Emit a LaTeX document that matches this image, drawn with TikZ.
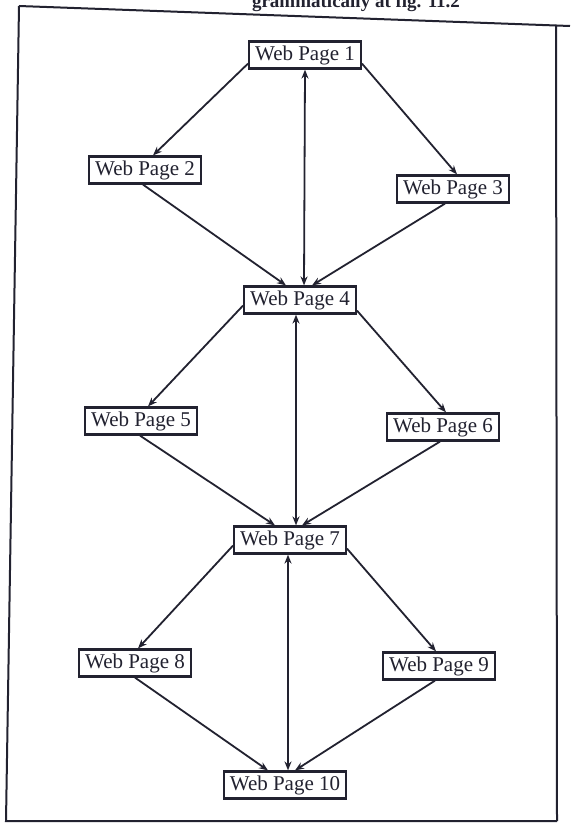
\documentclass[tikz,border=0pt]{standalone}
\usepackage{fontspec}
\setmainfont{Liberation Serif}
\usetikzlibrary{arrows.meta}
\definecolor{ink}{RGB}{34,34,48}
\begin{document}
\begin{tikzpicture}[x=1pt,y=-1pt,
  page/.style={draw=ink,line width=2.2pt,fill=white,inner xsep=6pt,inner ysep=0pt,
    minimum height=27pt,font=\fontsize{21}{22}\selectfont,text=ink},
  link/.style={draw=ink,line width=1.8pt,-{Stealth[length=9pt,width=7pt]}},
  both/.style={draw=ink,line width=1.8pt,{Stealth[length=9pt,width=7pt]}-{Stealth[length=9pt,width=7pt]}}]
\useasboundingbox (0,0) rectangle (570,824);
\fill[white] (0,0) rectangle (570,824);
% caption line, cut by the page edge
\node[anchor=base,text=ink,font=\bfseries\fontsize{19}{20}\selectfont] (cap) at (356,8) {grammatically at fig. 11.2};
% frame
\draw[ink,line width=2pt] (19,6) -- (570,26);
\draw[ink,line width=2pt] (19,6) -- (6,821) -- (557,821);
\draw[ink,line width=2pt] (556,25) -- (557,821);
% pages
\node[page] (p1) at (305,55) {Web Page 1};
\node[page] (p2) at (145,170) {Web Page 2};
\node[page] (p3) at (453,189) {Web Page 3};
\node[page] (p4) at (300,300) {Web Page 4};
\node[page] (p5) at (141,421) {Web Page 5};
\node[page] (p6) at (443,427) {Web Page 6};
\node[page] (p7) at (290,540) {Web Page 7};
\node[page] (p8) at (135,663) {Web Page 8};
\node[page] (p9) at (439,666) {Web Page 9};
\node[page] (p10) at (285,785) {Web Page 10};
% links
\draw[link] ([yshift=6pt]p1.south west) -- ([xshift=8pt]p2.north);
\draw[link] ([yshift=6pt]p1.south east) -- ([xshift=4pt]p3.north);
\draw[both] (p1.south) -- ([xshift=4pt]p4.north);
\draw[link] ([xshift=-2pt]p2.south) -- ([xshift=-14pt]p4.north);
\draw[link] ([xshift=-8pt]p3.south) -- ([xshift=12pt]p4.north);
\draw[link] ([yshift=9pt]p4.south west) -- ([xshift=7pt]p5.north);
\draw[link] ([yshift=4pt]p4.south east) -- ([xshift=3pt]p6.north);
\draw[both] ([xshift=-4pt]p4.south) -- ([xshift=6pt]p7.north);
\draw[link] ([xshift=-1pt]p5.south) -- ([xshift=-15pt]p7.north);
\draw[link] ([xshift=-3pt]p6.south) -- ([xshift=12pt]p7.north);
\draw[link] ([yshift=9pt]p7.south west) -- ([xshift=3pt]p8.north);
\draw[link] ([yshift=6pt]p7.south east) -- ([xshift=-3pt]p9.north);
\draw[both] ([xshift=-2pt]p7.south) -- ([xshift=3pt]p10.north);
\draw[link] (p8.south) -- ([xshift=-17pt]p10.north);
\draw[link] ([xshift=-4pt]p9.south) -- ([xshift=10pt]p10.north);
\end{tikzpicture}
\end{document}
